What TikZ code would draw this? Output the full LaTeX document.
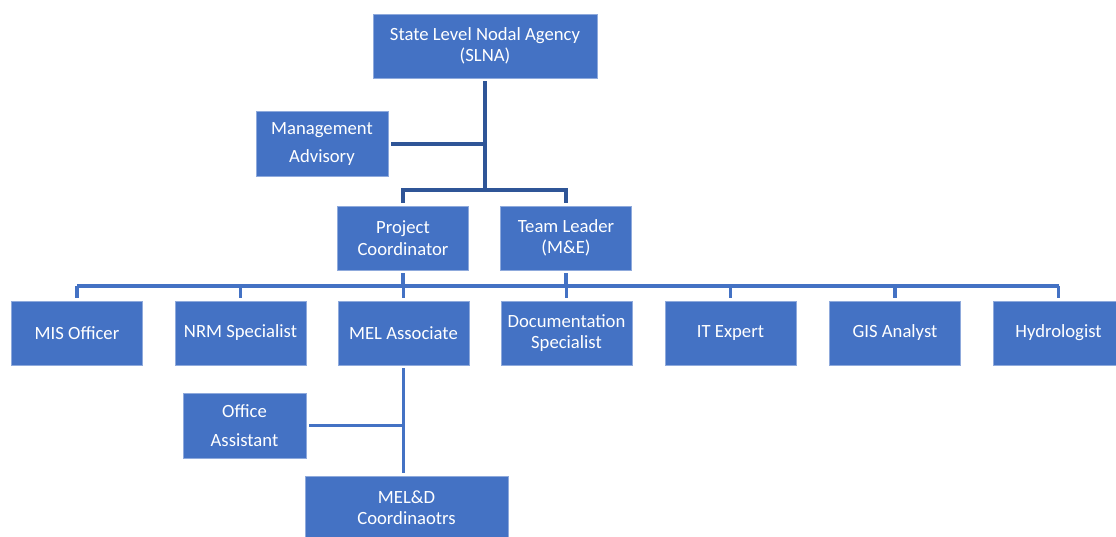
\documentclass[tikz,border=0pt]{standalone}
\usepackage{fontspec}
\setmainfont{Carlito}
\definecolor{boxblue}{HTML}{4472C4}
\definecolor{darkline}{HTML}{2F5597}
\tikzset{
  box/.style={fill=boxblue, draw=boxblue!60!white, line width=0.4pt, text=white, align=center,
    inner sep=0pt, outer sep=2.6pt, font=\fontsize{14}{16}\selectfont},
  wide/.style={font=\fontsize{14}{21.5}\selectfont},
  topline/.style={draw=darkline, line width=2.3pt},
  botline/.style={draw=boxblue, line width=2.3pt},
}
\begin{document}
\begin{tikzpicture}[x=0.75pt,y=-0.75pt]
\useasboundingbox (0,0) rectangle (1116,536);
% top part
\node[box, minimum width=224*0.75pt, minimum height=64*0.75pt] (slna) at (485,46) {State Level Nodal Agency\\(SLNA)};
\node[box, wide, minimum width=132*0.75pt, minimum height=65*0.75pt] (mgmt) at (322,144) {Management\\Advisory};
\node[box, minimum width=131*0.75pt, minimum height=64*0.75pt] (pc) at (403,238) {Project\\Coordinator};
\node[box, minimum width=131*0.75pt, minimum height=64*0.75pt] (tl) at (566,238) {Team Leader\\(M\&E)};
% bottom row
\foreach \n/\x/\t in {mis/77/{MIS Officer}, nrm/240.5/{NRM Specialist}, mel/403.5/{MEL Associate},
  doc/566.5/{Documentation\\Specialist}, it/730.5/{IT Expert}, gis/895/{GIS Analyst}, hydro/1058.5/{Hydrologist}}
  \node[box, minimum width=131*0.75pt, minimum height=64*0.75pt] (\n) at (\x,333) {\t};
\node[box, wide, minimum width=123*0.75pt, minimum height=65*0.75pt] (office) at (244.5,425.5) {Office\\Assistant};
\node[box, minimum width=203*0.75pt, minimum height=64*0.75pt] (meld) at (406.5,508) {MEL\&D\\Coordinaotrs};
% connectors top
\coordinate (j1) at (485,190);
\draw[topline] (slna.south) -- (j1);
\draw[topline] (mgmt.east) -- (mgmt.east -| j1);
\draw[topline] (pc.north) |- (j1) -| (tl.north);
% connectors bottom
\coordinate (j2) at (0,286);
\draw[botline] (mis.north |- j2) -- (hydro.north |- j2);
\draw[botline] (pc.south) -- (pc.south |- j2);
\draw[botline] (tl.south) -- (tl.south |- j2);
\foreach \n in {mis,nrm,mel,doc,it,gis,hydro}
  \draw[botline] (\n.north) -- (\n.north |- j2);
\draw[botline] (mel.south) -- (mel.south |- meld.north);
\draw[botline] (office.east) -- (office.east -| mel.south);
\end{tikzpicture}
\end{document}
